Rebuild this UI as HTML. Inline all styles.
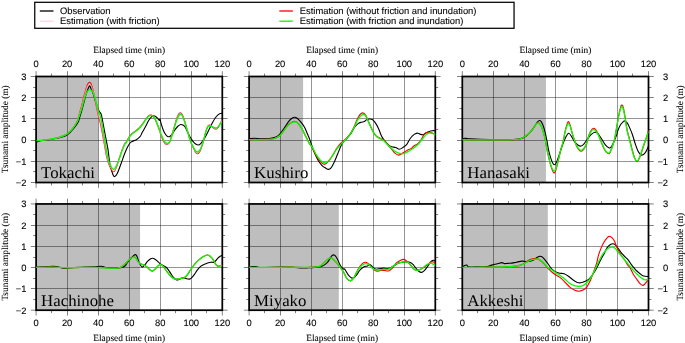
<!DOCTYPE html>
<html lang="en"><head><meta charset="utf-8"><title>Tsunami waveforms</title>
<style>html,body{margin:0;padding:0;background:#fff}svg{display:block}text{text-rendering:geometricPrecision}.s{font-family:'Liberation Sans', Arial, Helvetica, sans-serif;font-size:9.4px;fill:#000;stroke:#000;stroke-width:.09px}.r{font-family:'Liberation Serif', 'Times New Roman', Times, serif;font-size:9.4px;fill:#000;stroke:#000;stroke-width:.08px}.n{font-family:'Liberation Serif', 'Times New Roman', Times, serif;font-size:16.33px;fill:#000}</style></head><body>
<svg width="685" height="343" viewBox="0 0 685 343">
<rect width="685" height="343" fill="#fff"/>
<rect x="34.75" y="2.3" width="479.3" height="26" fill="#fff" stroke="#000" stroke-width="1.25"/>
<line x1="39.8" y1="11.0" x2="53.5" y2="11.0" stroke="#000" stroke-width="1.3"/>
<text class="s" x="60.0" y="14.1">Observation</text>
<line x1="39.8" y1="21.2" x2="53.5" y2="21.2" stroke="#ffc0cb" stroke-width="0.85"/>
<text class="s" x="60.0" y="24.3">Estimation (with friction)</text>
<line x1="279.3" y1="11.0" x2="292.8" y2="11.0" stroke="#f00" stroke-width="1.3"/>
<text class="s" x="299.8" y="14.1">Estimation (without friction and inundation)</text>
<line x1="279.3" y1="21.2" x2="292.8" y2="21.2" stroke="#0f0" stroke-width="1.3"/>
<text class="s" x="299.8" y="24.3">Estimation (with friction and inundation)</text>
<g>
<rect x="36.1" y="76.5" width="62.07" height="106" fill="#bebebe"/>
<path d="M67.5 76.5V182.5M98.5 76.5V182.5M129.5 76.5V182.5M160.5 76.5V182.5M191.5 76.5V182.5M36.1 97.5H222.3M36.1 118.5H222.3M36.1 140.5H222.3M36.1 161.5H222.3" stroke="#000" stroke-width="0.42" fill="none"/>
<rect x="36.1" y="76.5" width="186.2" height="106" fill="none" stroke="#000" stroke-width="1.75"/>
<path d="M36.1 76.5v-5.3M36.1 182.5v5.3M51.5 76.5v-2.9M51.5 182.5v2.9M67.5 76.5v-5.3M67.5 182.5v5.3M82.5 76.5v-2.9M82.5 182.5v2.9M98.5 76.5v-5.3M98.5 182.5v5.3M113.5 76.5v-2.9M113.5 182.5v2.9M129.5 76.5v-5.3M129.5 182.5v5.3M144.5 76.5v-2.9M144.5 182.5v2.9M160.5 76.5v-5.3M160.5 182.5v5.3M175.5 76.5v-2.9M175.5 182.5v2.9M191.5 76.5v-5.3M191.5 182.5v5.3M206.5 76.5v-2.9M206.5 182.5v2.9M222.3 76.5v-5.3M222.3 182.5v5.3M36.1 76.5h-5.3M222.3 76.5h5.3M36.1 87.5h-2.9M222.3 87.5h2.9M36.1 97.5h-5.3M222.3 97.5h5.3M36.1 108.5h-2.9M222.3 108.5h2.9M36.1 118.5h-5.3M222.3 118.5h5.3M36.1 129.5h-2.9M222.3 129.5h2.9M36.1 140.5h-5.3M222.3 140.5h5.3M36.1 150.5h-2.9M222.3 150.5h2.9M36.1 161.5h-5.3M222.3 161.5h5.3M36.1 171.5h-2.9M222.3 171.5h2.9M36.1 182.5h-5.3M222.3 182.5h5.3" stroke="#000" stroke-width="0.5" fill="none"/>
<text class="n" transform="translate(41.1 178) scale(1.03 1)">Tokachi</text>
<clipPath id="c00"><rect x="36.1" y="76.5" width="186.2" height="106"/></clipPath>
<g clip-path="url(#c00)" fill="none" stroke-linejoin="round" stroke-linecap="butt">
<path d="M36 142.41C36.49 142.19 37.7 141.44 38.92 141.09C40.14 140.75 41.35 140.63 43.3 140.36C45.25 140.1 48.17 139.88 50.6 139.49C53.03 139.1 55.46 138.61 57.9 138.03C60.33 137.45 63.13 136.96 65.2 135.99C67.27 135.01 68.73 133.65 70.31 132.19C71.89 130.73 73.35 128.98 74.69 127.23C76.02 125.47 77.56 123.16 78.34 121.68C79.11 120.2 78.77 120.23 79.36 118.34C79.94 116.44 81.09 112.93 81.84 110.31C82.59 107.68 83.2 105.17 83.88 102.57C84.56 99.97 85.27 96.88 85.93 94.69C86.58 92.5 87.22 90.89 87.82 89.43C88.43 87.97 88.99 85.93 89.58 85.93C90.16 85.93 90.67 87.97 91.33 89.43C91.99 90.89 92.79 92.55 93.52 94.69C94.25 96.83 94.95 99.92 95.71 102.28C96.46 104.64 97.41 107.27 98.04 108.85C98.68 110.43 98.97 110.84 99.5 111.77C100.04 112.69 100.67 112.48 101.26 114.38C101.84 116.27 102.35 119.73 103.01 123.14C103.66 126.55 104.37 130.44 105.2 134.82C106.02 139.2 107.16 144.35 107.97 149.42C108.79 154.48 109.25 160.99 110.09 165.2C110.93 169.41 112.23 172.79 113.01 174.69C113.79 176.58 114.03 176.83 114.76 176.58C115.49 176.34 116.34 175.37 117.39 173.23C118.43 171.09 119.82 167.02 121.04 163.74C122.25 160.45 123.47 156.56 124.69 153.52C125.9 150.48 127.24 147.44 128.34 145.49C129.43 143.54 129.92 142.81 131.26 141.84C132.59 140.87 134.91 140.5 136.36 139.65C137.82 138.8 139.07 137.86 140.01 136.73C140.96 135.6 141.11 134.59 142.06 132.85C143.01 131.1 144.61 128.35 145.71 126.28C146.8 124.21 147.65 122.02 148.63 120.44C149.6 118.86 150.7 117.57 151.55 116.79C152.4 116.01 153.01 115.77 153.74 115.77C154.47 115.77 155.2 116.25 155.93 116.79C156.66 117.32 157.56 118.37 158.12 118.98C158.68 119.59 158.97 120.39 159.28 120.44C159.6 120.49 159.72 118.78 160.01 119.27C160.31 119.76 160.5 121.58 161.04 123.36C161.57 125.13 162.5 128.1 163.23 129.93C163.96 131.75 164.69 133.21 165.42 134.31C166.15 135.4 166.88 136.13 167.61 136.5C168.34 136.86 169.07 136.86 169.8 136.5C170.53 136.13 171.13 135.4 171.99 134.31C172.84 133.21 173.93 131.27 174.91 129.93C175.88 128.59 176.85 127.18 177.82 126.28C178.8 125.38 179.89 124.72 180.74 124.53C181.6 124.33 182.2 124.7 182.93 125.11C183.66 125.52 184.39 125.96 185.12 127.01C185.85 128.05 186.46 129.68 187.31 131.39C188.17 133.09 189.26 135.52 190.23 137.23C191.21 138.93 192.18 140.44 193.15 141.61C194.13 142.77 195.22 143.67 196.07 144.23C196.92 144.79 197.53 145.04 198.26 144.96C198.99 144.89 199.6 144.6 200.45 143.8C201.3 142.99 202.4 141.61 203.37 140.15C204.35 138.69 205.32 136.86 206.29 135.04C207.27 133.21 208.24 131.14 209.21 129.2C210.18 127.25 211.16 125.18 212.13 123.36C213.1 121.53 214.08 119.66 215.05 118.25C216.02 116.84 217.12 115.67 217.97 114.89C218.82 114.11 219.43 113.87 220.16 113.58C220.89 113.28 221.99 113.21 222.35 113.14" stroke="#000" stroke-width="1.12"/>
<path d="M36.73 140.66C37.82 140.58 40.99 140.46 43.3 140.22C45.61 139.98 48.17 139.61 50.6 139.2C53.03 138.78 55.46 138.42 57.9 137.74C60.33 137.06 63.25 136.08 65.2 135.11C67.14 134.14 68.12 133.28 69.58 131.9C71.04 130.51 72.62 128.69 73.96 126.79C75.29 124.89 76.63 122.89 77.61 120.51C78.58 118.13 79.07 115.17 79.8 112.5C80.53 109.82 81.3 107.14 81.99 104.47C82.67 101.79 83.27 98.8 83.88 96.44C84.49 94.08 85.03 92.3 85.64 90.31C86.24 88.31 86.9 85.81 87.53 84.47C88.17 83.13 88.82 82.35 89.43 82.28C90.04 82.2 90.6 82.76 91.18 84.03C91.77 85.29 92.33 87.56 92.93 89.87C93.54 92.18 94.22 94.98 94.83 97.9C95.44 100.82 95.98 104.4 96.58 107.39C97.19 110.38 97.75 112.73 98.48 115.84C99.21 118.95 100.14 122.17 100.96 126.06C101.79 129.95 102.46 133.89 103.45 139.2C104.43 144.5 105.77 153.27 106.88 157.9C107.98 162.52 108.99 164.64 110.09 166.95C111.18 169.26 112.4 171.69 113.45 171.77C114.49 171.84 115.42 169.58 116.36 167.39C117.31 165.2 118.19 161.55 119.14 158.63C120.09 155.71 121.09 152.42 122.06 149.87C123.03 147.31 124.32 144.55 124.98 143.3C125.64 142.04 125.34 143.35 126 142.34C126.66 141.32 127.95 138.69 128.92 137.23C129.89 135.77 130.74 134.62 131.84 133.58C132.93 132.53 134.27 131.87 135.49 130.95C136.71 130.02 137.92 129.25 139.14 128.03C140.36 126.81 141.69 125.11 142.79 123.65C143.88 122.19 144.73 120.58 145.71 119.27C146.68 117.96 147.73 116.47 148.63 115.77C149.53 115.06 150.31 114.87 151.11 115.04C151.91 115.21 152.69 115.89 153.45 116.79C154.2 117.69 154.78 118.61 155.64 120.44C156.49 122.26 157.58 125.06 158.55 127.74C159.53 130.41 160.5 134.01 161.47 136.5C162.45 138.98 163.47 141.31 164.39 142.63C165.32 143.94 166.17 144.43 167.02 144.38C167.87 144.33 168.73 143.77 169.5 142.34C170.28 140.9 170.96 138.13 171.69 135.77C172.42 133.41 173.15 130.73 173.88 128.18C174.61 125.62 175.34 122.65 176.07 120.44C176.8 118.22 177.53 116.16 178.26 114.89C178.99 113.63 179.75 112.82 180.45 112.85C181.16 112.87 181.79 113.65 182.5 115.04C183.2 116.42 183.96 118.86 184.69 121.17C185.42 123.48 186.15 126.35 186.88 128.91C187.61 131.46 188.34 134.09 189.07 136.5C189.8 138.91 190.53 141.46 191.26 143.36C191.99 145.26 192.76 146.45 193.45 147.88C194.13 149.32 194.66 151.01 195.34 151.99C196.02 152.96 196.75 153.88 197.53 153.74C198.31 153.59 199.36 152.16 200.01 151.11C200.67 150.06 200.89 149.15 201.47 147.45C202.06 145.74 202.84 143.38 203.52 140.88C204.2 138.37 204.86 134.84 205.56 132.41C206.27 129.98 207.09 127.49 207.75 126.28C208.41 125.06 208.9 125.16 209.5 125.11C210.11 125.06 210.72 125.5 211.4 125.99C212.08 126.47 212.86 127.49 213.59 128.03C214.32 128.56 215.05 129.25 215.78 129.2C216.51 129.15 217.24 128.64 217.97 127.74C218.7 126.84 219.43 125.13 220.16 123.8C220.89 122.46 221.99 120.39 222.35 119.71" stroke="#f00" stroke-width="1.15"/>
<path d="M36.73 140.66C37.82 140.58 40.99 140.46 43.3 140.22C45.61 139.98 48.17 139.61 50.6 139.2C53.03 138.78 55.46 138.42 57.9 137.74C60.33 137.06 63.25 136.08 65.2 135.11C67.14 134.14 68.12 133.28 69.58 131.9C71.04 130.51 72.62 128.67 73.96 126.79C75.29 124.91 76.63 122.92 77.61 120.6C78.58 118.28 79.07 115.44 79.8 112.86C80.53 110.28 81.3 107.69 81.99 105.1C82.67 102.51 83.27 99.62 83.88 97.31C84.49 95 85.03 93.15 85.64 91.24C86.24 89.33 86.9 87.1 87.53 85.86C88.17 84.63 88.82 83.92 89.43 83.83C90.04 83.74 90.6 84.24 91.18 85.34C91.77 86.44 92.33 88.38 92.93 90.45C93.54 92.53 94.22 95.08 94.83 97.78C95.44 100.48 95.98 103.8 96.58 106.66C97.19 109.52 97.75 111.93 98.48 114.94C99.21 117.94 100.14 120.89 100.96 124.7C101.79 128.51 102.46 132.4 103.45 137.8C104.43 143.19 105.77 152.32 106.88 157.08C107.98 161.84 108.99 163.99 110.09 166.34C111.18 168.7 112.4 171.09 113.45 171.2C114.49 171.32 115.42 169.11 116.36 167.03C117.31 164.95 118.19 161.52 119.14 158.7C120.09 155.88 121.09 152.64 122.06 150.11C123.03 147.58 124.32 144.77 124.98 143.5C125.64 142.23 125.34 143.5 126 142.48C126.66 141.46 127.95 138.83 128.92 137.37C129.89 135.91 130.74 134.78 131.84 133.72C132.93 132.67 134.27 131.97 135.49 131.04C136.71 130.1 137.92 129.33 139.14 128.12C140.36 126.9 141.69 125.2 142.79 123.74C143.88 122.28 144.73 120.67 145.71 119.36C146.68 118.05 147.73 116.59 148.63 115.88C149.53 115.18 150.31 114.98 151.11 115.13C151.91 115.27 152.69 115.88 153.45 116.75C154.2 117.62 154.78 118.53 155.64 120.34C156.49 122.15 157.58 124.95 158.55 127.59C159.53 130.23 160.5 133.74 161.47 136.19C162.45 138.64 163.47 140.98 164.39 142.31C165.32 143.63 166.17 144.14 167.02 144.13C167.87 144.12 168.73 143.61 169.5 142.24C170.28 140.87 170.96 138.22 171.69 135.92C172.42 133.62 173.15 130.95 173.88 128.43C174.61 125.9 175.34 122.97 176.07 120.78C176.8 118.58 177.53 116.53 178.26 115.26C178.99 113.99 179.75 113.13 180.45 113.14C181.16 113.15 181.79 113.96 182.5 115.33C183.2 116.7 183.96 119.08 184.69 121.36C185.42 123.64 186.15 126.48 186.88 129.01C187.61 131.54 188.34 134.15 189.07 136.53C189.8 138.9 190.53 141.4 191.26 143.27C191.99 145.14 192.76 146.35 193.45 147.75C194.13 149.16 194.66 150.75 195.34 151.69C196.02 152.63 196.75 153.54 197.53 153.39C198.31 153.24 199.36 151.82 200.01 150.8C200.67 149.78 200.89 148.94 201.47 147.27C202.06 145.6 202.84 143.23 203.52 140.77C204.2 138.31 204.86 134.89 205.56 132.5C206.27 130.11 207.09 127.63 207.75 126.42C208.41 125.22 208.9 125.35 209.5 125.28C210.11 125.22 210.72 125.61 211.4 126.04C212.08 126.48 212.86 127.42 213.59 127.91C214.32 128.4 215.05 129.05 215.78 128.99C216.51 128.94 217.24 128.45 217.97 127.59C218.7 126.73 219.43 125.1 220.16 123.85C220.89 122.6 221.99 120.72 222.35 120.09" stroke="#ffc0cb" stroke-width="0.7"/>
<path d="M36.73 140.66C37.82 140.58 40.99 140.46 43.3 140.22C45.61 139.98 48.17 139.61 50.6 139.2C53.03 138.78 55.46 138.42 57.9 137.74C60.33 137.06 63.25 136.08 65.2 135.11C67.14 134.14 68.12 133.28 69.58 131.9C71.04 130.51 72.62 128.61 73.96 126.79C75.29 124.96 76.88 122.36 77.61 120.95C78.34 119.54 77.73 120.11 78.34 118.34C78.94 116.56 80.4 112.98 81.26 110.31C82.11 107.63 82.72 104.83 83.45 102.28C84.18 99.72 84.91 96.88 85.64 94.98C86.36 93.08 87.09 91.77 87.82 90.89C88.55 90.01 89.28 89.65 90.01 89.72C90.74 89.8 91.47 90.33 92.2 91.33C92.93 92.33 93.66 93.64 94.39 95.71C95.12 97.78 95.85 100.94 96.58 103.74C97.31 106.54 98.17 110.48 98.77 112.5C99.38 114.51 99.63 113.58 100.23 115.84C100.84 118.1 101.69 122.17 102.42 126.06C103.15 129.95 103.7 133.89 104.61 139.2C105.53 144.5 106.86 153.44 107.9 157.9C108.93 162.35 109.84 164.03 110.82 165.93C111.79 167.82 112.76 169.41 113.74 169.28C114.71 169.16 115.68 167.09 116.66 165.2C117.63 163.3 118.6 160.45 119.58 157.9C120.55 155.34 121.52 152.3 122.5 149.87C123.47 147.44 124.83 144.43 125.42 143.3C126 142.17 125.42 143.96 126 143.07C126.58 142.18 127.95 139.42 128.92 137.96C129.89 136.5 130.74 135.4 131.84 134.31C132.93 133.21 134.27 132.36 135.49 131.39C136.71 130.41 137.92 129.68 139.14 128.47C140.36 127.25 141.69 125.55 142.79 124.09C143.88 122.63 144.73 121 145.71 119.71C146.68 118.42 147.65 117.08 148.63 116.35C149.6 115.62 150.7 115.26 151.55 115.33C152.4 115.4 153.01 115.94 153.74 116.79C154.47 117.64 155.08 118.61 155.93 120.44C156.78 122.26 157.87 125.18 158.85 127.74C159.82 130.29 160.79 133.45 161.77 135.77C162.74 138.08 163.71 140.32 164.69 141.61C165.66 142.9 166.75 143.5 167.61 143.5C168.46 143.5 169.07 142.9 169.8 141.61C170.53 140.32 171.26 137.96 171.99 135.77C172.72 133.58 173.45 130.9 174.18 128.47C174.91 126.03 175.64 123.24 176.36 121.17C177.09 119.1 177.87 117.2 178.55 116.06C179.24 114.91 179.84 114.36 180.45 114.31C181.06 114.26 181.55 114.62 182.2 115.77C182.86 116.91 183.66 119.05 184.39 121.17C185.12 123.28 185.85 126.03 186.58 128.47C187.31 130.9 188.04 133.45 188.77 135.77C189.5 138.08 190.23 140.51 190.96 142.34C191.69 144.16 192.42 145.35 193.15 146.72C193.88 148.08 194.61 149.65 195.34 150.53C196.07 151.4 196.8 152.06 197.53 151.99C198.26 151.91 199.11 150.84 199.72 150.09C200.33 149.33 200.57 148.98 201.18 147.45C201.79 145.91 202.64 143.31 203.37 140.88C204.1 138.44 204.83 135.16 205.56 132.85C206.29 130.54 207.09 128.15 207.75 127.01C208.41 125.86 208.9 126.11 209.5 125.99C210.11 125.86 210.72 126.03 211.4 126.28C212.08 126.52 212.86 127.13 213.59 127.45C214.32 127.76 215.05 128.25 215.78 128.18C216.51 128.1 217.24 127.69 217.97 127.01C218.7 126.33 219.43 124.99 220.16 124.09C220.89 123.19 221.99 122.02 222.35 121.61" stroke="#0f0" stroke-width="1.3"/>
</g>
<text class="s" text-anchor="middle" x="36.1" y="67">0</text>
<text class="s" text-anchor="middle" x="67.13" y="67">20</text>
<text class="s" text-anchor="middle" x="98.17" y="67">40</text>
<text class="s" text-anchor="middle" x="129.2" y="67">60</text>
<text class="s" text-anchor="middle" x="160.23" y="67">80</text>
<text class="s" text-anchor="middle" x="191.27" y="67">100</text>
<text class="s" text-anchor="middle" x="222.3" y="67">120</text>
<text class="r" text-anchor="middle" x="129.2" y="52.5">Elapsed time (min)</text>
<text class="s" text-anchor="end" x="26.4" y="79.85">3</text>
<text class="s" text-anchor="end" x="26.4" y="101.05">2</text>
<text class="s" text-anchor="end" x="26.4" y="122.25">1</text>
<text class="s" text-anchor="end" x="26.4" y="143.45">0</text>
<text class="s" text-anchor="end" x="26.4" y="164.65">−1</text>
<text class="s" text-anchor="end" x="26.4" y="185.85">−2</text>
<text class="r" text-anchor="middle" transform="translate(8.4 129.2) rotate(-90)">Tsunami amplitude (m)</text>
</g>
<g>
<rect x="249.1" y="76.5" width="54" height="106" fill="#bebebe"/>
<path d="M280.5 76.5V182.5M311.5 76.5V182.5M342.5 76.5V182.5M373.5 76.5V182.5M404.5 76.5V182.5M249.1 97.5H435.3M249.1 118.5H435.3M249.1 140.5H435.3M249.1 161.5H435.3" stroke="#000" stroke-width="0.42" fill="none"/>
<rect x="249.1" y="76.5" width="186.2" height="106" fill="none" stroke="#000" stroke-width="1.75"/>
<path d="M249.1 76.5v-5.3M249.1 182.5v5.3M264.5 76.5v-2.9M264.5 182.5v2.9M280.5 76.5v-5.3M280.5 182.5v5.3M295.5 76.5v-2.9M295.5 182.5v2.9M311.5 76.5v-5.3M311.5 182.5v5.3M326.5 76.5v-2.9M326.5 182.5v2.9M342.5 76.5v-5.3M342.5 182.5v5.3M357.5 76.5v-2.9M357.5 182.5v2.9M373.5 76.5v-5.3M373.5 182.5v5.3M388.5 76.5v-2.9M388.5 182.5v2.9M404.5 76.5v-5.3M404.5 182.5v5.3M419.5 76.5v-2.9M419.5 182.5v2.9M435.3 76.5v-5.3M435.3 182.5v5.3M249.1 76.5h-5.3M435.3 76.5h5.3M249.1 87.5h-2.9M435.3 87.5h2.9M249.1 97.5h-5.3M435.3 97.5h5.3M249.1 108.5h-2.9M435.3 108.5h2.9M249.1 118.5h-5.3M435.3 118.5h5.3M249.1 129.5h-2.9M435.3 129.5h2.9M249.1 140.5h-5.3M435.3 140.5h5.3M249.1 150.5h-2.9M435.3 150.5h2.9M249.1 161.5h-5.3M435.3 161.5h5.3M249.1 171.5h-2.9M435.3 171.5h2.9M249.1 182.5h-5.3M435.3 182.5h5.3" stroke="#000" stroke-width="0.5" fill="none"/>
<text class="n" transform="translate(254.1 178) scale(1.03 1)">Kushiro</text>
<clipPath id="c01"><rect x="249.1" y="76.5" width="186.2" height="106"/></clipPath>
<g clip-path="url(#c01)" fill="none" stroke-linejoin="round" stroke-linecap="butt">
<path d="M249.21 138.69C250.14 138.61 252.86 138.25 254.76 138.25C256.66 138.25 258.41 138.61 260.6 138.69C262.79 138.76 265.46 138.93 267.9 138.69C270.33 138.44 273.25 137.96 275.2 137.23C277.14 136.5 278.12 135.77 279.58 134.31C281.04 132.85 282.5 130.54 283.96 128.47C285.42 126.4 287 123.6 288.34 121.9C289.67 120.19 290.89 119.03 291.99 118.25C293.08 117.47 294.05 117.23 294.91 117.23C295.76 117.23 296.12 117.47 297.09 118.25C298.07 119.03 299.53 120.44 300.74 121.9C301.96 123.36 303.3 125.06 304.39 127.01C305.49 128.95 306.34 131.27 307.31 133.58C308.29 135.89 309.2 138.07 310.23 140.88C311.27 143.69 312.24 147.26 313.52 150.44C314.8 153.61 316.44 157.37 317.9 159.93C319.36 162.48 320.94 164.38 322.28 165.77C323.62 167.15 324.91 167.64 325.93 168.25C326.95 168.86 327.56 169.46 328.41 169.42C329.26 169.37 330.11 169.05 331.04 167.96C331.96 166.86 332.86 165.16 333.96 162.85C335.05 160.54 336.39 157.01 337.61 154.09C338.82 151.17 340.16 147.52 341.26 145.33C342.35 143.14 343.2 142.17 344.18 140.95C345.15 139.73 346 139.25 347.09 138.03C348.19 136.81 349.46 135.49 350.74 133.65C352.03 131.81 353.51 128.72 354.79 127.01C356.07 125.29 357.34 124.16 358.44 123.36C359.53 122.55 360.38 122.48 361.36 122.19C362.33 121.9 363.43 122.02 364.28 121.61C365.13 121.19 365.62 120.15 366.47 119.71C367.32 119.27 368.41 119.03 369.39 118.98C370.36 118.93 371.33 118.81 372.31 119.42C373.28 120.02 374.25 121.24 375.23 122.63C376.2 124.01 377.17 125.67 378.15 127.74C379.12 129.81 380.46 133.56 381.07 135.04C381.67 136.51 381.19 135.58 381.8 136.57C382.4 137.55 383.5 139.49 384.72 140.95C385.93 142.41 387.88 144.36 389.09 145.33C390.31 146.3 390.92 146.42 392.01 146.79C393.11 147.15 394.45 147.1 395.66 147.52C396.88 147.93 398.1 149.27 399.31 149.27C400.53 149.27 401.75 148.3 402.96 147.52C404.18 146.74 405.52 145.94 406.61 144.6C407.71 143.26 408.56 140.95 409.53 139.49C410.51 138.03 411.48 136.81 412.45 135.84C413.43 134.87 414.45 134.09 415.37 133.65C416.3 133.21 417.15 133.09 418 133.21C418.85 133.33 419.58 134.14 420.48 134.38C421.38 134.62 422.55 134.87 423.4 134.67C424.25 134.48 424.62 133.75 425.59 133.21C426.56 132.68 428.15 131.87 429.24 131.46C430.34 131.05 431.11 130.85 432.16 130.73C433.21 130.61 434.96 130.73 435.52 130.73" stroke="#000" stroke-width="1.12"/>
<path d="M249.21 139.71C251.11 139.71 257.24 139.76 260.6 139.71C263.96 139.66 266.92 139.66 269.36 139.42C271.79 139.17 273.49 138.86 275.2 138.25C276.9 137.64 278.12 137.08 279.58 135.77C281.04 134.45 282.5 132.21 283.96 130.36C285.42 128.52 287 126.03 288.34 124.67C289.67 123.31 290.82 122.73 291.99 122.19C293.15 121.65 294.25 121.19 295.34 121.46C296.44 121.73 297.41 122.51 298.55 123.8C299.7 125.09 300.99 127.08 302.2 129.2C303.42 131.31 304.64 134.06 305.85 136.5C307.07 138.93 308.52 142.08 309.5 143.8C310.49 145.51 310.66 144.83 311.77 146.79C312.87 148.75 314.69 153.04 316.15 155.55C317.61 158.05 319.14 160.36 320.53 161.82C321.91 163.28 323.15 164.38 324.47 164.31C325.78 164.23 327.07 162.85 328.41 161.39C329.75 159.93 331.13 157.66 332.5 155.55C333.86 153.43 335.25 150.71 336.58 148.69C337.92 146.67 339.02 145.04 340.53 143.43C342.03 141.82 344.05 140.61 345.64 139.05C347.22 137.49 348.61 136.09 350.01 134.09C351.42 132.08 352.9 129.4 354.06 127.01C355.22 124.61 356 121.78 356.98 119.71C357.95 117.64 358.92 115.74 359.9 114.6C360.87 113.45 361.84 112.73 362.82 112.85C363.79 112.97 364.89 114.06 365.74 115.33C366.59 116.59 367.08 118.49 367.93 120.44C368.78 122.38 369.87 124.94 370.85 127.01C371.82 129.08 372.79 131.27 373.77 132.85C374.74 134.43 375.59 135.57 376.69 136.5C377.78 137.42 379.12 137.77 380.34 138.39C381.55 139.01 382.77 139.18 383.99 140.22C385.2 141.25 386.3 143.02 387.64 144.6C388.97 146.18 390.8 148.3 392.01 149.71C393.23 151.12 393.84 152.17 394.93 153.07C396.03 153.97 397.37 155.06 398.58 155.11C399.8 155.16 401.14 153.94 402.23 153.36C403.33 152.77 404.18 152.21 405.15 151.61C406.13 151 407.1 150.19 408.07 149.71C409.05 149.22 410.02 149.29 410.99 148.69C411.97 148.08 412.82 146.86 413.91 146.06C415.01 145.26 416.47 144.72 417.56 143.87C418.66 143.02 419.39 142.53 420.48 140.95C421.58 139.37 423.04 135.84 424.13 134.38C425.23 132.92 425.83 132.43 427.05 132.19C428.27 131.95 430.02 132.55 431.43 132.92C432.84 133.28 434.84 134.14 435.52 134.38" stroke="#f00" stroke-width="1.15"/>
<path d="M249.21 139.71C251.11 139.71 257.24 139.76 260.6 139.71C263.96 139.66 266.92 139.66 269.36 139.42C271.79 139.17 273.49 138.86 275.2 138.25C276.9 137.64 278.12 137.03 279.58 135.77C281.04 134.5 282.5 132.43 283.96 130.66C285.42 128.88 287 126.45 288.34 125.11C289.67 123.77 290.77 123.16 291.99 122.63C293.2 122.09 294.54 121.65 295.64 121.9C296.73 122.14 297.46 122.87 298.55 124.09C299.65 125.3 300.99 127.13 302.2 129.2C303.42 131.27 304.64 134.06 305.85 136.5C307.07 138.93 308.47 142.08 309.5 143.8C310.54 145.51 310.9 144.95 312.06 146.79C313.21 148.63 314.98 152.51 316.44 154.82C317.9 157.13 319.36 159.32 320.82 160.66C322.28 162 323.86 162.85 325.2 162.85C326.54 162.85 327.63 161.87 328.85 160.66C330.06 159.44 331.16 157.49 332.5 155.55C333.83 153.6 335.42 150.92 336.88 148.98C338.34 147.03 339.8 145.45 341.26 143.87C342.72 142.29 344.18 141.07 345.64 139.49C347.09 137.91 348.61 136.34 350.01 134.38C351.42 132.42 352.9 129.94 354.06 127.74C355.22 125.54 356 122.99 356.98 121.17C357.95 119.34 359.05 117.83 359.9 116.79C360.75 115.74 361.41 115.3 362.09 114.89C362.77 114.48 363.38 114.11 363.99 114.31C364.59 114.5 365.08 115.04 365.74 116.06C366.39 117.08 367.08 118.61 367.93 120.44C368.78 122.26 369.87 124.94 370.85 127.01C371.82 129.08 372.79 131.27 373.77 132.85C374.74 134.43 375.59 135.52 376.69 136.5C377.78 137.47 379.12 137.94 380.34 138.69C381.55 139.43 382.77 139.96 383.99 140.95C385.2 141.93 386.42 143.38 387.64 144.6C388.85 145.82 390.07 147.15 391.28 148.25C392.5 149.34 393.72 150.36 394.93 151.17C396.15 151.97 397.37 152.63 398.58 153.07C399.8 153.5 401.26 153.75 402.23 153.8C403.21 153.84 403.57 153.67 404.42 153.36C405.27 153.04 406.25 152.51 407.34 151.9C408.44 151.29 409.78 150.49 410.99 149.71C412.21 148.93 413.43 148.13 414.64 147.23C415.86 146.33 417.08 145.6 418.29 144.31C419.51 143.02 420.73 141.02 421.94 139.49C423.16 137.96 424.37 136.2 425.59 135.11C426.81 134.01 428.15 133.24 429.24 132.92C430.34 132.6 431.11 132.92 432.16 133.21C433.21 133.5 434.96 134.43 435.52 134.67" stroke="#0f0" stroke-width="1.3"/>
</g>
<text class="s" text-anchor="middle" x="249.1" y="67">0</text>
<text class="s" text-anchor="middle" x="280.13" y="67">20</text>
<text class="s" text-anchor="middle" x="311.17" y="67">40</text>
<text class="s" text-anchor="middle" x="342.2" y="67">60</text>
<text class="s" text-anchor="middle" x="373.23" y="67">80</text>
<text class="s" text-anchor="middle" x="404.27" y="67">100</text>
<text class="s" text-anchor="middle" x="435.3" y="67">120</text>
<text class="r" text-anchor="middle" x="342.2" y="52.5">Elapsed time (min)</text>
</g>
<g>
<rect x="462.3" y="76.5" width="83.63" height="106" fill="#bebebe"/>
<path d="M493.5 76.5V182.5M524.5 76.5V182.5M555.5 76.5V182.5M586.5 76.5V182.5M617.5 76.5V182.5M462.3 97.5H648.5M462.3 118.5H648.5M462.3 140.5H648.5M462.3 161.5H648.5" stroke="#000" stroke-width="0.42" fill="none"/>
<rect x="462.3" y="76.5" width="186.2" height="106" fill="none" stroke="#000" stroke-width="1.75"/>
<path d="M462.3 76.5v-5.3M462.3 182.5v5.3M477.5 76.5v-2.9M477.5 182.5v2.9M493.5 76.5v-5.3M493.5 182.5v5.3M508.5 76.5v-2.9M508.5 182.5v2.9M524.5 76.5v-5.3M524.5 182.5v5.3M539.5 76.5v-2.9M539.5 182.5v2.9M555.5 76.5v-5.3M555.5 182.5v5.3M570.5 76.5v-2.9M570.5 182.5v2.9M586.5 76.5v-5.3M586.5 182.5v5.3M601.5 76.5v-2.9M601.5 182.5v2.9M617.5 76.5v-5.3M617.5 182.5v5.3M632.5 76.5v-2.9M632.5 182.5v2.9M648.5 76.5v-5.3M648.5 182.5v5.3M462.3 76.5h-5.3M648.5 76.5h5.3M462.3 87.5h-2.9M648.5 87.5h2.9M462.3 97.5h-5.3M648.5 97.5h5.3M462.3 108.5h-2.9M648.5 108.5h2.9M462.3 118.5h-5.3M648.5 118.5h5.3M462.3 129.5h-2.9M648.5 129.5h2.9M462.3 140.5h-5.3M648.5 140.5h5.3M462.3 150.5h-2.9M648.5 150.5h2.9M462.3 161.5h-5.3M648.5 161.5h5.3M462.3 171.5h-2.9M648.5 171.5h2.9M462.3 182.5h-5.3M648.5 182.5h5.3" stroke="#000" stroke-width="0.5" fill="none"/>
<text class="n" transform="translate(467.3 178) scale(1.03 1)">Hanasaki</text>
<clipPath id="c02"><rect x="462.3" y="76.5" width="186.2" height="106"/></clipPath>
<g clip-path="url(#c02)" fill="none" stroke-linejoin="round" stroke-linecap="butt">
<path d="M462.38 139.12C462.74 138.98 463.6 138.32 464.57 138.25C465.54 138.18 465.66 138.49 468.22 138.69C470.77 138.88 474.3 139.25 479.9 139.42C485.49 139.59 495.71 139.71 501.8 139.71C507.88 139.71 512.99 139.66 516.39 139.42C519.8 139.17 520.53 138.86 522.23 138.25C523.94 137.64 525.15 136.91 526.61 135.77C528.07 134.62 529.65 132.97 530.99 131.39C532.33 129.81 533.55 127.86 534.64 126.28C535.74 124.7 536.76 122.87 537.56 121.9C538.36 120.92 538.85 120.49 539.46 120.44C540.07 120.39 540.55 120.63 541.21 121.61C541.87 122.58 542.67 124.16 543.4 126.28C544.13 128.39 544.93 131.51 545.59 134.31C546.25 137.1 546.78 140.13 547.34 143.07C547.91 146 548.22 148.84 548.98 151.9C549.74 154.95 551.05 159.25 551.9 161.39C552.75 163.53 553.36 164.5 554.09 164.74C554.82 164.99 555.43 164.5 556.28 162.85C557.13 161.19 558.22 157.62 559.2 154.82C560.17 152.02 561.02 148.98 562.12 146.06C563.21 143.14 564.67 139.44 565.77 137.3C566.86 135.16 567.71 133.33 568.69 133.21C569.66 133.09 570.63 135.16 571.61 136.57C572.58 137.98 573.43 140.22 574.53 141.68C575.62 143.14 577.08 144.6 578.18 145.33C579.27 146.06 580.12 146.3 581.09 146.06C582.07 145.82 582.92 145.09 584.01 143.87C585.11 142.65 586.45 140.34 587.66 138.76C588.88 137.18 590.1 135.47 591.31 134.38C592.53 133.28 593.87 132.31 594.96 132.19C596.06 132.07 596.79 132.55 597.88 133.65C598.98 134.74 600.32 136.93 601.53 138.76C602.75 140.58 603.97 143.09 605.18 144.6C606.4 146.11 607.86 147.37 608.83 147.81C609.81 148.25 610.17 148.25 611.02 147.23C611.87 146.2 612.97 143.82 613.94 141.68C614.91 139.54 616.25 136.09 616.86 134.38C617.47 132.66 616.98 132.98 617.59 131.39C618.2 129.79 619.54 126.47 620.51 124.82C621.48 123.16 622.76 122.11 623.43 121.46C624.11 120.81 623.94 120.68 624.56 120.91C625.19 121.15 626.31 121.68 627.19 122.88C628.07 124.09 628.94 126.17 629.82 128.14C630.69 130.11 631.57 132.19 632.45 134.71C633.32 137.23 634.2 140.62 635.07 143.25C635.95 145.88 636.83 148.61 637.7 150.47C638.58 152.34 639.56 153.65 640.33 154.42C641.1 155.18 641.53 155.29 642.3 155.07C643.07 154.85 644.16 153.98 644.93 153.1C645.69 152.23 646.29 151.02 646.9 149.82C647.51 148.61 648.32 146.53 648.61 145.88" stroke="#000" stroke-width="1.12"/>
<path d="M462.38 139.71C464.08 139.73 468.46 139.83 472.6 139.85C476.73 139.88 482.33 139.85 487.2 139.85C492.06 139.85 497.42 139.88 501.8 139.85C506.18 139.83 510.55 139.83 513.47 139.71C516.39 139.59 517.61 139.54 519.31 139.12C521.02 138.71 522.23 138.03 523.69 137.23C525.15 136.42 526.73 135.45 528.07 134.31C529.41 133.16 530.63 131.7 531.72 130.36C532.82 129.03 533.79 127.45 534.64 126.28C535.49 125.11 536.18 123.94 536.83 123.36C537.49 122.77 537.98 122.53 538.58 122.77C539.19 123.02 539.8 123.63 540.48 124.82C541.16 126.01 541.94 127.74 542.67 129.93C543.4 132.12 544.42 136.24 544.86 137.96C545.3 139.67 544.89 137.85 545.33 140.22C545.77 142.59 546.67 148.18 547.52 152.19C548.37 156.2 549.59 161.19 550.44 164.31C551.29 167.42 552.02 169.42 552.63 170.88C553.24 172.34 553.6 173.07 554.09 173.07C554.57 173.07 554.94 172.58 555.55 170.88C556.16 169.17 556.89 166.25 557.74 162.85C558.59 159.44 559.68 154.26 560.66 150.44C561.63 146.62 562.9 142.86 563.58 139.93C564.26 137 564.21 135.36 564.74 132.85C565.28 130.33 566.18 126.69 566.79 124.82C567.4 122.94 567.83 121.56 568.39 121.61C568.95 121.65 569.49 123.11 570.15 125.11C570.8 127.1 571.48 130.64 572.34 133.58C573.19 136.51 574.28 140.16 575.26 142.7C576.23 145.24 577.2 147.42 578.18 148.83C579.15 150.24 580.12 151.17 581.09 151.17C582.07 151.17 583.04 150.24 584.01 148.83C584.99 147.42 586.2 144.71 586.93 142.7C587.66 140.69 587.79 138.67 588.39 136.79C589 134.9 589.81 132.77 590.58 131.39C591.36 130 592.29 128.83 593.07 128.47C593.84 128.1 594.53 128.54 595.26 129.2C595.99 129.85 596.74 131.07 597.45 132.41C598.15 133.75 598.81 135.51 599.49 137.23C600.17 138.94 600.71 140.64 601.53 142.7C602.36 144.76 603.43 147.79 604.45 149.56C605.47 151.34 606.79 152.77 607.66 153.36C608.54 153.94 609.03 153.92 609.71 153.07C610.39 152.21 610.92 150.63 611.75 148.25C612.58 145.86 613.82 142.47 614.67 138.76C615.52 135.05 616.13 130.13 616.86 125.99C617.59 121.84 618.39 117.1 619.05 113.87C619.71 110.63 620.32 108.03 620.8 106.57C621.29 105.11 621.53 104.87 621.97 105.11C622.41 105.35 622.87 105.84 623.43 108.03C623.99 110.22 624.7 114.48 625.33 118.25C625.96 122.02 626.54 127.26 627.23 130.66C627.91 134.06 628.62 135.57 629.42 138.65C630.23 141.73 631.18 145.91 632.05 149.16C632.93 152.41 633.8 156.05 634.68 158.13C635.56 160.22 636.5 161.74 637.31 161.68C638.12 161.61 638.88 159.17 639.54 157.74C640.2 156.31 640.53 155.23 641.25 153.1C641.97 150.97 643 147.58 643.88 144.96C644.75 142.33 645.72 139.74 646.5 137.34C647.29 134.93 648.26 131.64 648.61 130.5" stroke="#f00" stroke-width="1.15"/>
<path d="M462.38 139.71C464.08 139.73 468.46 139.83 472.6 139.85C476.73 139.88 482.33 139.85 487.2 139.85C492.06 139.85 497.42 139.88 501.8 139.85C506.18 139.83 510.55 139.83 513.47 139.71C516.39 139.59 517.61 139.54 519.31 139.12C521.02 138.71 522.23 138.03 523.69 137.23C525.15 136.42 526.73 135.45 528.07 134.31C529.41 133.16 530.63 131.7 531.72 130.36C532.82 129.03 533.79 127.4 534.64 126.28C535.49 125.16 536.18 124.18 536.83 123.65C537.49 123.11 537.98 122.87 538.58 123.07C539.19 123.26 539.8 123.67 540.48 124.82C541.16 125.96 541.94 127.74 542.67 129.93C543.4 132.12 544.42 136.24 544.86 137.96C545.3 139.67 544.89 137.9 545.33 140.22C545.77 142.54 546.67 148 547.52 151.9C548.37 155.79 549.59 160.66 550.44 163.58C551.29 166.5 552.02 168.15 552.63 169.42C553.24 170.68 553.6 171.17 554.09 171.17C554.57 171.17 554.94 170.92 555.55 169.42C556.16 167.91 556.89 165.28 557.74 162.12C558.59 158.95 559.68 154.09 560.66 150.44C561.63 146.79 562.9 143.03 563.58 140.22C564.26 137.41 564.21 135.9 564.74 133.58C565.28 131.25 566.18 127.98 566.79 126.28C567.4 124.57 567.83 123.36 568.39 123.36C568.95 123.36 569.49 124.57 570.15 126.28C570.8 127.98 571.48 130.89 572.34 133.58C573.19 136.27 574.28 139.96 575.26 142.41C576.23 144.85 577.2 146.91 578.18 148.25C579.15 149.59 580.12 150.44 581.09 150.44C582.07 150.44 583.04 149.59 584.01 148.25C584.99 146.91 586.2 144.25 586.93 142.41C587.66 140.57 587.79 138.94 588.39 137.23C589 135.51 589.85 133.38 590.58 132.12C591.31 130.85 592.04 130 592.77 129.64C593.5 129.27 594.23 129.39 594.96 129.93C595.69 130.46 596.42 131.63 597.15 132.85C597.88 134.06 598.61 135.63 599.34 137.23C600.07 138.82 600.68 140.45 601.53 142.41C602.38 144.37 603.48 147.27 604.45 148.98C605.43 150.68 606.52 152.02 607.37 152.63C608.22 153.24 608.83 153.36 609.56 152.63C610.29 151.9 610.9 150.56 611.75 148.25C612.6 145.94 613.82 142.42 614.67 138.76C615.52 135.1 616.13 130.3 616.86 126.28C617.59 122.25 618.39 117.64 619.05 114.6C619.71 111.56 620.32 109.37 620.8 108.03C621.29 106.69 621.53 106.33 621.97 106.57C622.41 106.81 622.9 107.42 623.43 109.49C623.97 111.56 624.57 115.45 625.18 118.98C625.79 122.51 626.42 127.38 627.08 130.66C627.74 133.94 628.38 135.57 629.16 138.65C629.95 141.73 630.91 145.98 631.79 149.16C632.66 152.34 633.54 155.76 634.42 157.74C635.29 159.71 636.23 161.02 637.04 161.02C637.85 161.02 638.62 159.06 639.28 157.74C639.93 156.42 640.26 155.19 640.99 153.1C641.71 151.02 642.74 147.74 643.61 145.22C644.49 142.7 645.41 140.29 646.24 137.99C647.07 135.69 648.21 132.52 648.61 131.42" stroke="#0f0" stroke-width="1.3"/>
</g>
<text class="s" text-anchor="middle" x="462.3" y="67">0</text>
<text class="s" text-anchor="middle" x="493.33" y="67">20</text>
<text class="s" text-anchor="middle" x="524.37" y="67">40</text>
<text class="s" text-anchor="middle" x="555.4" y="67">60</text>
<text class="s" text-anchor="middle" x="586.43" y="67">80</text>
<text class="s" text-anchor="middle" x="617.47" y="67">100</text>
<text class="s" text-anchor="middle" x="648.5" y="67">120</text>
<text class="r" text-anchor="middle" x="555.4" y="52.5">Elapsed time (min)</text>
<text class="s" text-anchor="end" x="668.1" y="79.85">3</text>
<text class="s" text-anchor="end" x="668.1" y="101.05">2</text>
<text class="s" text-anchor="end" x="668.1" y="122.25">1</text>
<text class="s" text-anchor="end" x="668.1" y="143.45">0</text>
<text class="s" text-anchor="end" x="668.1" y="164.65">−1</text>
<text class="s" text-anchor="end" x="668.1" y="185.85">−2</text>
<text class="r" text-anchor="middle" transform="translate(682.6 129.2) rotate(-90)">Tsunami amplitude (m)</text>
</g>
<g>
<rect x="36.1" y="203.95" width="103.96" height="106.25" fill="#bebebe"/>
<path d="M67.5 203.95V310.2M98.5 203.95V310.2M129.5 203.95V310.2M160.5 203.95V310.2M191.5 203.95V310.2M36.1 225.5H222.3M36.1 246.5H222.3M36.1 267.5H222.3M36.1 288.5H222.3" stroke="#000" stroke-width="0.42" fill="none"/>
<rect x="36.1" y="203.95" width="186.2" height="106.25" fill="none" stroke="#000" stroke-width="1.75"/>
<path d="M36.1 203.95v-5.3M36.1 310.2v5.3M51.5 203.95v-2.9M51.5 310.2v2.9M67.5 203.95v-5.3M67.5 310.2v5.3M82.5 203.95v-2.9M82.5 310.2v2.9M98.5 203.95v-5.3M98.5 310.2v5.3M113.5 203.95v-2.9M113.5 310.2v2.9M129.5 203.95v-5.3M129.5 310.2v5.3M144.5 203.95v-2.9M144.5 310.2v2.9M160.5 203.95v-5.3M160.5 310.2v5.3M175.5 203.95v-2.9M175.5 310.2v2.9M191.5 203.95v-5.3M191.5 310.2v5.3M206.5 203.95v-2.9M206.5 310.2v2.9M222.3 203.95v-5.3M222.3 310.2v5.3M36.1 203.95h-5.3M222.3 203.95h5.3M36.1 214.5h-2.9M222.3 214.5h2.9M36.1 225.5h-5.3M222.3 225.5h5.3M36.1 235.5h-2.9M222.3 235.5h2.9M36.1 246.5h-5.3M222.3 246.5h5.3M36.1 257.5h-2.9M222.3 257.5h2.9M36.1 267.5h-5.3M222.3 267.5h5.3M36.1 278.5h-2.9M222.3 278.5h2.9M36.1 288.5h-5.3M222.3 288.5h5.3M36.1 299.5h-2.9M222.3 299.5h2.9M36.1 310.2h-5.3M222.3 310.2h5.3" stroke="#000" stroke-width="0.5" fill="none"/>
<text class="n" transform="translate(41.1 305.7) scale(1.03 1)">Hachinohe</text>
<clipPath id="c10"><rect x="36.1" y="203.95" width="186.2" height="106.25"/></clipPath>
<g clip-path="url(#c10)" fill="none" stroke-linejoin="round" stroke-linecap="butt">
<path d="M36.13 267.15C38.03 267.06 44.16 266.67 47.52 266.57C50.88 266.47 53.36 266.28 56.28 266.57C59.2 266.86 62.12 268.18 65.04 268.32C67.96 268.47 70.39 267.64 73.8 267.45C77.2 267.25 82.07 267.25 85.47 267.15C88.88 267.06 91.56 267.01 94.23 266.86C96.91 266.72 99.59 266.18 101.53 266.28C103.48 266.37 103.72 267.2 105.91 267.45C108.1 267.69 112.24 267.69 114.67 267.74C117.1 267.79 118.81 268.03 120.51 267.74C122.21 267.45 123.76 266.84 124.89 265.99C126.02 265.13 126.29 263.92 127.3 262.63C128.31 261.34 129.85 259.46 130.95 258.25C132.04 257.03 133.14 255.94 133.87 255.33C134.6 254.72 134.84 254.48 135.33 254.6C135.82 254.72 136.18 254.84 136.79 256.06C137.4 257.27 138.25 260.19 138.98 261.9C139.71 263.6 140.56 265.43 141.17 266.28C141.78 267.13 142.02 267.25 142.63 267.01C143.24 266.76 143.97 265.79 144.82 264.82C145.67 263.84 146.76 262.19 147.74 261.17C148.71 260.15 149.81 259.17 150.66 258.69C151.51 258.2 152 258.08 152.85 258.25C153.7 258.42 154.67 258.91 155.77 259.71C156.86 260.51 158.2 262.09 159.42 263.07C160.63 264.04 161.85 264.77 163.07 265.55C164.28 266.33 165.5 266.52 166.72 267.74C167.93 268.95 169.27 271.27 170.36 272.85C171.46 274.43 172.31 276.08 173.28 277.23C174.26 278.37 175.35 279.29 176.2 279.71C177.06 280.12 177.54 279.95 178.39 279.71C179.25 279.46 180.46 278.59 181.31 278.25C182.17 277.91 182.65 277.59 183.5 277.66C184.36 277.74 185.45 278.44 186.42 278.69C187.4 278.93 188.49 279.25 189.34 279.12C190.19 279 190.68 278.76 191.53 277.96C192.38 277.15 193.48 275.64 194.45 274.31C195.43 272.97 196.4 271.22 197.37 269.93C198.35 268.64 199.2 267.47 200.29 266.57C201.39 265.67 202.73 265.11 203.94 264.53C205.16 263.94 206.37 263.45 207.59 263.07C208.81 262.68 210.27 262.31 211.24 262.19C212.21 262.07 212.73 262.53 213.43 262.34C214.14 262.14 214.77 261.68 215.47 261.02C216.18 260.36 216.93 259.15 217.66 258.39C218.39 257.63 219.05 256.98 219.85 256.47C220.66 255.96 222.04 255.52 222.48 255.33" stroke="#000" stroke-width="1.12"/>
<path d="M36.13 267.45C38.76 267.4 46.84 267.1 51.9 267.15C56.96 267.2 61.63 267.69 66.5 267.74C71.36 267.79 76.23 267.49 81.09 267.45C85.96 267.4 90.83 267.35 95.69 267.45C100.56 267.54 106.64 267.93 110.29 268.03C113.94 268.13 115.64 268.27 117.59 268.03C119.54 267.79 120.63 267.35 121.97 266.57C123.31 265.79 124.73 264.18 125.62 263.36C126.51 262.53 126.41 262.46 127.3 261.61C128.19 260.75 129.85 259.05 130.95 258.25C132.04 257.45 133.02 256.79 133.87 256.79C134.72 256.79 135.33 257.4 136.06 258.25C136.79 259.1 137.4 260.92 138.25 261.9C139.1 262.87 140.19 263.55 141.17 264.09C142.14 264.62 143.11 264.62 144.09 265.11C145.06 265.6 146.03 266.2 147.01 267.01C147.98 267.81 149.03 269.25 149.93 269.93C150.83 270.61 151.56 271.22 152.41 271.09C153.26 270.97 154.11 270.05 155.04 269.2C155.96 268.35 156.98 266.76 157.96 265.99C158.93 265.21 159.9 264.36 160.88 264.53C161.85 264.7 162.82 265.86 163.8 267.01C164.77 268.15 165.62 269.93 166.72 271.39C167.81 272.85 169.15 274.55 170.36 275.77C171.58 276.98 172.8 278.13 174.01 278.69C175.23 279.25 176.45 279.2 177.66 279.12C178.88 279.05 180.22 278.49 181.31 278.25C182.41 278 183.26 278.2 184.23 277.66C185.21 277.13 186.18 276.2 187.15 275.04C188.13 273.87 189.1 272.12 190.07 270.66C191.05 269.2 191.9 267.74 192.99 266.28C194.09 264.82 195.43 263.16 196.64 261.9C197.86 260.63 199.08 259.61 200.29 258.69C201.51 257.76 202.77 256.96 203.94 256.35C205.11 255.74 206.33 255.09 207.3 255.04C208.27 254.99 208.88 255.4 209.78 256.06C210.68 256.72 211.73 257.64 212.7 258.98C213.67 260.32 214.77 262.87 215.62 264.09C216.47 265.3 217.32 265.94 217.81 266.28C218.3 266.61 218.05 266.2 218.54 266.1C219.03 266 220.07 265.75 220.73 265.66C221.39 265.58 222.19 265.59 222.48 265.58" stroke="#f00" stroke-width="1.15"/>
<path d="M36.13 267.45C38.76 267.4 46.84 267.1 51.9 267.15C56.96 267.2 61.63 267.69 66.5 267.74C71.36 267.79 76.23 267.49 81.09 267.45C85.96 267.4 90.83 267.35 95.69 267.45C100.56 267.54 106.64 267.93 110.29 268.03C113.94 268.13 115.64 268.27 117.59 268.03C119.54 267.79 120.63 267.35 121.97 266.57C123.31 265.79 124.73 264.18 125.62 263.36C126.51 262.53 126.41 262.46 127.3 261.61C128.19 260.75 129.85 259.05 130.95 258.25C132.04 257.45 133.02 256.79 133.87 256.79C134.72 256.79 135.33 257.4 136.06 258.25C136.79 259.1 137.4 260.92 138.25 261.9C139.1 262.87 140.19 263.55 141.17 264.09C142.14 264.62 143.11 264.62 144.09 265.11C145.06 265.6 146.03 266.2 147.01 267.01C147.98 267.81 149.03 269.25 149.93 269.93C150.83 270.61 151.56 271.22 152.41 271.09C153.26 270.97 154.11 270.05 155.04 269.2C155.96 268.35 156.98 266.76 157.96 265.99C158.93 265.21 159.9 264.36 160.88 264.53C161.85 264.7 162.82 265.86 163.8 267.01C164.77 268.15 165.62 269.93 166.72 271.39C167.81 272.85 169.15 274.55 170.36 275.77C171.58 276.98 172.8 278.13 174.01 278.69C175.23 279.25 176.45 279.2 177.66 279.12C178.88 279.05 180.22 278.49 181.31 278.25C182.41 278 183.26 278.2 184.23 277.66C185.21 277.13 186.18 276.2 187.15 275.04C188.13 273.87 189.1 272.12 190.07 270.66C191.05 269.2 191.9 267.74 192.99 266.28C194.09 264.82 195.43 263.16 196.64 261.9C197.86 260.63 199.08 259.61 200.29 258.69C201.51 257.76 202.77 256.96 203.94 256.35C205.11 255.74 206.33 255.09 207.3 255.04C208.27 254.99 208.88 255.4 209.78 256.06C210.68 256.72 211.73 257.64 212.7 258.98C213.67 260.32 214.77 262.87 215.62 264.09C216.47 265.3 217.32 265.94 217.81 266.28C218.3 266.61 218.05 266.2 218.54 266.1C219.03 266 220.07 265.75 220.73 265.66C221.39 265.58 222.19 265.59 222.48 265.58" stroke="#0f0" stroke-width="1.3"/>
</g>
<text class="s" text-anchor="middle" x="36.1" y="326.3">0</text>
<text class="s" text-anchor="middle" x="67.13" y="326.3">20</text>
<text class="s" text-anchor="middle" x="98.17" y="326.3">40</text>
<text class="s" text-anchor="middle" x="129.2" y="326.3">60</text>
<text class="s" text-anchor="middle" x="160.23" y="326.3">80</text>
<text class="s" text-anchor="middle" x="191.27" y="326.3">100</text>
<text class="s" text-anchor="middle" x="222.3" y="326.3">120</text>
<text class="r" text-anchor="middle" x="129.2" y="340.6">Elapsed time (min)</text>
<text class="s" text-anchor="end" x="26.4" y="207.3">3</text>
<text class="s" text-anchor="end" x="26.4" y="228.55">2</text>
<text class="s" text-anchor="end" x="26.4" y="249.8">1</text>
<text class="s" text-anchor="end" x="26.4" y="271.05">0</text>
<text class="s" text-anchor="end" x="26.4" y="292.3">−1</text>
<text class="s" text-anchor="end" x="26.4" y="313.55">−2</text>
<text class="r" text-anchor="middle" transform="translate(8.4 256.77) rotate(-90)">Tsunami amplitude (m)</text>
</g>
<g>
<rect x="249.1" y="203.95" width="89.69" height="106.25" fill="#bebebe"/>
<path d="M280.5 203.95V310.2M311.5 203.95V310.2M342.5 203.95V310.2M373.5 203.95V310.2M404.5 203.95V310.2M249.1 225.5H435.3M249.1 246.5H435.3M249.1 267.5H435.3M249.1 288.5H435.3" stroke="#000" stroke-width="0.42" fill="none"/>
<rect x="249.1" y="203.95" width="186.2" height="106.25" fill="none" stroke="#000" stroke-width="1.75"/>
<path d="M249.1 203.95v-5.3M249.1 310.2v5.3M264.5 203.95v-2.9M264.5 310.2v2.9M280.5 203.95v-5.3M280.5 310.2v5.3M295.5 203.95v-2.9M295.5 310.2v2.9M311.5 203.95v-5.3M311.5 310.2v5.3M326.5 203.95v-2.9M326.5 310.2v2.9M342.5 203.95v-5.3M342.5 310.2v5.3M357.5 203.95v-2.9M357.5 310.2v2.9M373.5 203.95v-5.3M373.5 310.2v5.3M388.5 203.95v-2.9M388.5 310.2v2.9M404.5 203.95v-5.3M404.5 310.2v5.3M419.5 203.95v-2.9M419.5 310.2v2.9M435.3 203.95v-5.3M435.3 310.2v5.3M249.1 203.95h-5.3M435.3 203.95h5.3M249.1 214.5h-2.9M435.3 214.5h2.9M249.1 225.5h-5.3M435.3 225.5h5.3M249.1 235.5h-2.9M435.3 235.5h2.9M249.1 246.5h-5.3M435.3 246.5h5.3M249.1 257.5h-2.9M435.3 257.5h2.9M249.1 267.5h-5.3M435.3 267.5h5.3M249.1 278.5h-2.9M435.3 278.5h2.9M249.1 288.5h-5.3M435.3 288.5h5.3M249.1 299.5h-2.9M435.3 299.5h2.9M249.1 310.2h-5.3M435.3 310.2h5.3" stroke="#000" stroke-width="0.5" fill="none"/>
<text class="n" transform="translate(254.1 305.7) scale(1.03 1)">Miyako</text>
<clipPath id="c11"><rect x="249.1" y="203.95" width="186.2" height="106.25"/></clipPath>
<g clip-path="url(#c11)" fill="none" stroke-linejoin="round" stroke-linecap="butt">
<path d="M249.21 267.45C249.65 267.3 250.67 266.72 251.84 266.57C253.01 266.42 254.76 266.42 256.22 266.57C257.68 266.72 256.22 267.35 260.6 267.45C264.98 267.54 276.9 267.15 282.5 267.15C288.09 267.15 291.01 267.3 294.18 267.45C297.34 267.59 299.04 267.98 301.47 268.03C303.91 268.08 306.1 267.88 308.77 267.74C311.45 267.59 315.34 267.4 317.53 267.15C319.72 266.91 320.57 266.79 321.91 266.28C323.25 265.77 324.47 264.94 325.56 264.09C326.66 263.24 327.63 262.31 328.48 261.17C329.33 260.02 329.94 258.25 330.67 257.23C331.4 256.2 332.2 255.35 332.86 255.04C333.52 254.72 334 254.91 334.61 255.33C335.22 255.74 335.83 256.42 336.51 257.52C337.19 258.61 337.97 260.44 338.7 261.9C339.43 263.36 340.04 265.06 340.89 266.28C341.74 267.49 343.17 268.71 343.81 269.2C344.45 269.68 343.99 268.22 344.76 269.2C345.53 270.17 347.31 273.63 348.41 275.04C349.5 276.45 350.48 277.18 351.33 277.66C352.18 278.15 352.67 278.39 353.52 277.96C354.37 277.52 355.34 276.37 356.44 275.04C357.53 273.7 358.87 271.27 360.09 269.93C361.3 268.59 362.52 267.66 363.74 267.01C364.95 266.35 366.29 266.35 367.39 265.99C368.48 265.62 369.33 264.53 370.31 264.82C371.28 265.11 372.25 267.01 373.23 267.74C374.2 268.47 375.05 269.08 376.15 269.2C377.24 269.32 378.58 268.64 379.8 268.47C381.01 268.3 382.23 268.18 383.45 268.18C384.66 268.18 385.88 268.54 387.09 268.47C388.31 268.39 389.53 268.22 390.74 267.74C391.96 267.25 393.18 266.28 394.39 265.55C395.61 264.82 396.83 263.92 398.04 263.36C399.26 262.8 400.36 262.43 401.69 262.19C403.03 261.95 404.73 261.87 406.07 261.9C407.41 261.92 408.63 261.97 409.72 262.34C410.82 262.7 411.67 263.19 412.64 264.09C413.62 264.99 414.59 266.59 415.56 267.74C416.54 268.88 417.51 270.17 418.48 270.95C419.45 271.73 420.43 272.46 421.4 272.41C422.37 272.36 423.35 271.56 424.32 270.66C425.29 269.76 426.27 268.35 427.24 267.01C428.21 265.67 429.31 263.72 430.16 262.63C431.01 261.53 431.62 260.8 432.35 260.44C433.08 260.07 434 260.24 434.54 260.44C435.08 260.63 435.39 261.41 435.56 261.61" stroke="#000" stroke-width="1.12"/>
<path d="M249.21 267.45C252.33 267.45 261.13 267.49 267.9 267.45C274.66 267.4 283.71 267.15 289.8 267.15C295.88 267.15 300.26 267.45 304.39 267.45C308.53 267.45 312.18 267.3 314.61 267.15C317.05 267.01 317.78 266.96 318.99 266.57C320.21 266.18 320.82 265.72 321.91 264.82C323.01 263.92 324.47 262.19 325.56 261.17C326.66 260.15 327.63 259.25 328.48 258.69C329.33 258.13 329.94 257.76 330.67 257.81C331.4 257.86 332.01 258.3 332.86 258.98C333.71 259.66 334.69 260.68 335.78 261.9C336.88 263.11 338.21 264.7 339.43 266.28C340.65 267.86 341.83 269.32 343.08 271.39C344.33 273.45 345.7 277.1 346.95 278.69C348.2 280.27 349.5 280.95 350.6 280.88C351.69 280.8 352.55 279.64 353.52 278.25C354.49 276.86 355.46 274.4 356.44 272.55C357.41 270.71 358.34 268.69 359.36 267.15C360.38 265.62 361.47 264.16 362.57 263.36C363.66 262.55 364.81 262.14 365.93 262.34C367.05 262.53 368.24 263.58 369.28 264.53C370.33 265.47 371.06 266.96 372.2 268.03C373.35 269.1 374.88 270.51 376.15 270.95C377.41 271.39 378.46 270.75 379.8 270.66C381.13 270.56 382.72 270.32 384.18 270.36C385.64 270.41 387.22 271.27 388.55 270.95C389.89 270.63 390.99 269.73 392.2 268.47C393.42 267.2 394.52 264.7 395.85 263.36C397.19 262.02 398.9 261.09 400.23 260.44C401.57 259.78 402.79 259.29 403.88 259.42C404.98 259.54 405.78 260.32 406.8 261.17C407.82 262.02 408.92 263.31 410.01 264.53C411.11 265.74 412.33 267.49 413.37 268.47C414.42 269.44 415.44 270.12 416.29 270.36C417.14 270.61 417.51 270.24 418.48 269.93C419.45 269.61 420.79 269.2 422.13 268.47C423.47 267.74 425.05 266.64 426.51 265.55C427.97 264.45 429.72 262.51 430.89 261.9C432.06 261.29 432.74 261.53 433.52 261.9C434.3 262.26 435.22 263.72 435.56 264.09" stroke="#f00" stroke-width="1.15"/>
<path d="M249.21 267.45C252.33 267.45 261.13 267.49 267.9 267.45C274.66 267.4 283.71 267.15 289.8 267.15C295.88 267.15 300.26 267.45 304.39 267.45C308.53 267.45 312.18 267.3 314.61 267.15C317.05 267.01 317.78 266.96 318.99 266.57C320.21 266.18 320.82 265.72 321.91 264.82C323.01 263.92 324.47 262.19 325.56 261.17C326.66 260.15 327.63 259.25 328.48 258.69C329.33 258.13 329.94 257.76 330.67 257.81C331.4 257.86 332.01 258.3 332.86 258.98C333.71 259.66 334.69 260.68 335.78 261.9C336.88 263.11 338.21 264.7 339.43 266.28C340.65 267.86 341.83 269.32 343.08 271.39C344.33 273.45 345.7 277.15 346.95 278.69C348.2 280.22 349.5 280.66 350.6 280.58C351.69 280.51 352.55 279.54 353.52 278.25C354.49 276.96 355.46 274.6 356.44 272.85C357.41 271.09 358.26 269.12 359.36 267.74C360.45 266.35 361.91 265.21 363.01 264.53C364.1 263.84 364.95 263.6 365.93 263.65C366.9 263.7 367.87 264.14 368.85 264.82C369.82 265.5 370.67 266.89 371.77 267.74C372.86 268.59 374.08 269.56 375.42 269.93C376.75 270.29 378.34 270.05 379.8 269.93C381.26 269.81 382.72 269.32 384.18 269.2C385.64 269.08 387.22 269.56 388.55 269.2C389.89 268.83 390.99 267.86 392.2 267.01C393.42 266.16 394.52 264.82 395.85 264.09C397.19 263.36 398.77 262.99 400.23 262.63C401.69 262.26 403.4 261.97 404.61 261.9C405.83 261.82 406.56 261.7 407.53 262.19C408.51 262.68 409.48 263.77 410.45 264.82C411.43 265.86 412.4 267.54 413.37 268.47C414.35 269.39 415.32 270.12 416.29 270.36C417.27 270.61 418.12 270.36 419.21 269.93C420.31 269.49 421.64 268.59 422.86 267.74C424.08 266.89 425.29 265.6 426.51 264.82C427.73 264.04 429.07 263.19 430.16 263.07C431.26 262.94 432.18 263.6 433.08 264.09C433.98 264.57 435.15 265.67 435.56 265.99" stroke="#0f0" stroke-width="1.3"/>
</g>
<text class="s" text-anchor="middle" x="249.1" y="326.3">0</text>
<text class="s" text-anchor="middle" x="280.13" y="326.3">20</text>
<text class="s" text-anchor="middle" x="311.17" y="326.3">40</text>
<text class="s" text-anchor="middle" x="342.2" y="326.3">60</text>
<text class="s" text-anchor="middle" x="373.23" y="326.3">80</text>
<text class="s" text-anchor="middle" x="404.27" y="326.3">100</text>
<text class="s" text-anchor="middle" x="435.3" y="326.3">120</text>
<text class="r" text-anchor="middle" x="342.2" y="340.6">Elapsed time (min)</text>
</g>
<g>
<rect x="462.3" y="203.95" width="85.5" height="106.25" fill="#bebebe"/>
<path d="M493.5 203.95V310.2M524.5 203.95V310.2M555.5 203.95V310.2M586.5 203.95V310.2M617.5 203.95V310.2M462.3 225.5H648.5M462.3 246.5H648.5M462.3 267.5H648.5M462.3 288.5H648.5" stroke="#000" stroke-width="0.42" fill="none"/>
<rect x="462.3" y="203.95" width="186.2" height="106.25" fill="none" stroke="#000" stroke-width="1.75"/>
<path d="M462.3 203.95v-5.3M462.3 310.2v5.3M477.5 203.95v-2.9M477.5 310.2v2.9M493.5 203.95v-5.3M493.5 310.2v5.3M508.5 203.95v-2.9M508.5 310.2v2.9M524.5 203.95v-5.3M524.5 310.2v5.3M539.5 203.95v-2.9M539.5 310.2v2.9M555.5 203.95v-5.3M555.5 310.2v5.3M570.5 203.95v-2.9M570.5 310.2v2.9M586.5 203.95v-5.3M586.5 310.2v5.3M601.5 203.95v-2.9M601.5 310.2v2.9M617.5 203.95v-5.3M617.5 310.2v5.3M632.5 203.95v-2.9M632.5 310.2v2.9M648.5 203.95v-5.3M648.5 310.2v5.3M462.3 203.95h-5.3M648.5 203.95h5.3M462.3 214.5h-2.9M648.5 214.5h2.9M462.3 225.5h-5.3M648.5 225.5h5.3M462.3 235.5h-2.9M648.5 235.5h2.9M462.3 246.5h-5.3M648.5 246.5h5.3M462.3 257.5h-2.9M648.5 257.5h2.9M462.3 267.5h-5.3M648.5 267.5h5.3M462.3 278.5h-2.9M648.5 278.5h2.9M462.3 288.5h-5.3M648.5 288.5h5.3M462.3 299.5h-2.9M648.5 299.5h2.9M462.3 310.2h-5.3M648.5 310.2h5.3" stroke="#000" stroke-width="0.5" fill="none"/>
<text class="n" transform="translate(467.3 305.7) scale(1.03 1)">Akkeshi</text>
<clipPath id="c12"><rect x="462.3" y="203.95" width="186.2" height="106.25"/></clipPath>
<g clip-path="url(#c12)" fill="none" stroke-linejoin="round" stroke-linecap="butt">
<path d="M462.38 267.01C462.74 266.76 463.84 265.86 464.57 265.55C465.3 265.23 466.15 264.91 466.76 265.11C467.37 265.3 467.25 266.4 468.22 266.72C469.19 267.03 470.65 267.01 472.6 267.01C474.55 267.01 477.46 266.79 479.9 266.72C482.33 266.64 485.25 266.84 487.2 266.57C489.14 266.3 489.87 265.57 491.58 265.11C493.28 264.65 495.71 264.21 497.42 263.8C499.12 263.38 500.58 262.65 501.8 262.63C503.01 262.6 503.74 263.53 504.72 263.65C505.69 263.77 506.42 263.45 507.64 263.36C508.85 263.26 510.55 263.26 512.01 263.07C513.47 262.87 514.69 262.51 516.39 262.19C518.1 261.87 520.53 261.27 522.23 261.17C523.94 261.07 525.15 261.65 526.61 261.61C528.07 261.56 529.78 261.19 530.99 260.88C532.21 260.56 532.94 260.27 533.91 259.71C534.89 259.15 535.91 258.08 536.83 257.52C537.76 256.96 538.61 256.47 539.46 256.35C540.31 256.23 541.16 256.35 541.94 256.79C542.72 257.23 543.28 258 544.13 258.98C544.98 259.95 546.41 261.83 547.05 262.63C547.7 263.42 547.23 262.72 548 263.76C548.77 264.8 550.43 267.53 551.65 268.87C552.87 270.21 553.96 271.06 555.3 271.79C556.64 272.52 558.22 272.93 559.68 273.25C561.14 273.56 562.6 273.2 564.06 273.69C565.52 274.17 566.98 275.15 568.44 276.17C569.9 277.19 571.36 278.77 572.82 279.82C574.28 280.86 575.86 281.96 577.2 282.45C578.54 282.93 579.51 282.93 580.85 282.74C582.18 282.54 583.89 281.89 585.23 281.28C586.56 280.67 587.66 280.18 588.88 279.09C590.09 277.99 591.31 276.41 592.53 274.71C593.74 273 594.96 271.06 596.18 268.87C597.39 266.68 598.49 264.14 599.82 261.57C601.16 259 602.99 255.79 604.2 253.47C605.42 251.14 606.15 249.09 607.12 247.63C608.1 246.17 609.07 245.36 610.04 244.71C611.02 244.05 612.11 243.69 612.96 243.69C613.82 243.69 614.3 243.93 615.15 244.71C616 245.49 616.98 246.9 618.07 248.36C619.17 249.82 620.51 252.01 621.72 253.47C622.94 254.93 624.28 256.02 625.37 257.12C626.47 258.21 627.32 258.82 628.29 260.04C629.27 261.25 630.42 263.31 631.21 264.42C632 265.52 632.14 265.62 633.03 266.68C633.92 267.74 635.36 269.6 636.53 270.77C637.7 271.93 638.87 272.81 640.04 273.69C641.2 274.56 642.14 275.54 643.54 276.02C644.94 276.51 647.63 276.51 648.45 276.61" stroke="#000" stroke-width="1.12"/>
<path d="M462.38 267.45C464.08 267.45 468.46 267.49 472.6 267.45C476.73 267.4 482.33 267.23 487.2 267.15C492.06 267.08 497.42 267.15 501.8 267.01C506.18 266.86 510.31 266.59 513.47 266.28C516.64 265.96 518.83 265.72 520.77 265.11C522.72 264.5 523.69 263.53 525.15 262.63C526.61 261.73 528.07 260.36 529.53 259.71C530.99 259.05 532.57 258.81 533.91 258.69C535.25 258.56 536.47 258.69 537.56 258.98C538.66 259.27 539.39 259.64 540.48 260.44C541.58 261.24 542.88 262.46 544.13 263.8C545.38 265.13 546.63 266.98 548 268.43C549.37 269.88 550.92 271.35 552.38 272.52C553.84 273.69 555.3 274.46 556.76 275.44C558.22 276.41 559.68 277.14 561.14 278.36C562.6 279.57 564.06 281.28 565.52 282.74C566.98 284.2 568.44 285.9 569.9 287.12C571.36 288.33 572.82 289.36 574.28 290.04C575.74 290.72 577.2 291.2 578.66 291.2C580.12 291.2 581.7 290.72 583.04 290.04C584.37 289.36 585.47 288.7 586.69 287.12C587.9 285.54 589.12 283.22 590.34 280.55C591.55 277.87 592.89 274.1 593.99 271.06C595.08 268.02 596.18 264.87 596.91 262.3C597.64 259.73 597.64 258.1 598.36 255.66C599.09 253.21 600.31 249.94 601.28 247.63C602.26 245.32 603.23 243.42 604.2 241.79C605.18 240.16 606.27 238.75 607.12 237.85C607.98 236.95 608.46 236.39 609.31 236.39C610.17 236.39 611.38 237.07 612.23 237.85C613.09 238.63 613.57 239.31 614.42 241.06C615.27 242.81 616.25 246.05 617.34 248.36C618.44 250.67 619.78 252.98 620.99 254.93C622.21 256.87 623.43 258.21 624.64 260.04C625.86 261.86 627.48 264.77 628.29 265.88C629.11 266.98 628.74 265.38 629.53 266.68C630.32 267.98 631.86 271.64 633.03 273.69C634.2 275.73 635.36 277.29 636.53 278.94C637.7 280.6 639.02 282.54 640.04 283.61C641.05 284.68 641.83 285.27 642.61 285.36C643.38 285.46 643.97 284.88 644.71 284.2C645.45 283.52 646.42 282.06 647.04 281.28C647.67 280.5 648.21 279.82 648.45 279.53" stroke="#f00" stroke-width="1.15"/>
<path d="M462.38 267.45C464.08 267.45 468.46 267.49 472.6 267.45C476.73 267.4 482.33 267.23 487.2 267.15C492.06 267.08 497.42 267.15 501.8 267.01C506.18 266.86 510.31 266.59 513.47 266.28C516.64 265.96 518.83 265.64 520.77 265.11C522.72 264.57 523.69 263.8 525.15 263.07C526.61 262.34 528.07 261.36 529.53 260.73C530.99 260.1 532.57 259.56 533.91 259.27C535.25 258.98 536.47 258.83 537.56 258.98C538.66 259.12 539.39 259.42 540.48 260.15C541.58 260.88 542.88 262.15 544.13 263.36C545.38 264.57 546.63 266.25 548 267.41C549.37 268.57 550.92 269.36 552.38 270.33C553.84 271.3 555.3 272.27 556.76 273.25C558.22 274.22 559.68 275.07 561.14 276.17C562.6 277.26 564.06 278.6 565.52 279.82C566.98 281.03 568.44 282.49 569.9 283.47C571.36 284.44 572.82 285.17 574.28 285.66C575.74 286.14 577.2 286.39 578.66 286.39C580.12 286.39 581.7 286.27 583.04 285.66C584.37 285.05 585.47 283.95 586.69 282.74C587.9 281.52 589.12 280.18 590.34 278.36C591.55 276.53 592.77 274.22 593.99 271.79C595.2 269.36 596.78 265.6 597.64 263.76C598.49 261.92 598.24 262.36 599.09 260.77C599.95 259.17 601.53 256.02 602.74 254.2C603.96 252.37 605.3 250.91 606.39 249.82C607.49 248.72 608.34 248.11 609.31 247.63C610.29 247.14 611.26 246.78 612.23 246.9C613.21 247.02 614.18 247.51 615.15 248.36C616.13 249.21 616.98 250.67 618.07 252.01C619.17 253.35 620.51 254.93 621.72 256.39C622.94 257.85 624.16 259.31 625.37 260.77C626.59 262.23 627.81 263.69 629.02 265.15C630.24 266.61 631.81 268.49 632.67 269.53C633.53 270.56 633.36 270.46 634.2 271.35C635.04 272.24 636.53 273.78 637.7 274.85C638.87 275.92 640.13 277 641.2 277.77C642.27 278.55 643.25 279.19 644.12 279.53C645 279.86 645.74 279.86 646.46 279.76C647.18 279.66 648.11 279.08 648.45 278.94" stroke="#0f0" stroke-width="1.3"/>
</g>
<text class="s" text-anchor="middle" x="462.3" y="326.3">0</text>
<text class="s" text-anchor="middle" x="493.33" y="326.3">20</text>
<text class="s" text-anchor="middle" x="524.37" y="326.3">40</text>
<text class="s" text-anchor="middle" x="555.4" y="326.3">60</text>
<text class="s" text-anchor="middle" x="586.43" y="326.3">80</text>
<text class="s" text-anchor="middle" x="617.47" y="326.3">100</text>
<text class="s" text-anchor="middle" x="648.5" y="326.3">120</text>
<text class="r" text-anchor="middle" x="555.4" y="340.6">Elapsed time (min)</text>
<text class="s" text-anchor="end" x="668.1" y="207.3">3</text>
<text class="s" text-anchor="end" x="668.1" y="228.55">2</text>
<text class="s" text-anchor="end" x="668.1" y="249.8">1</text>
<text class="s" text-anchor="end" x="668.1" y="271.05">0</text>
<text class="s" text-anchor="end" x="668.1" y="292.3">−1</text>
<text class="s" text-anchor="end" x="668.1" y="313.55">−2</text>
<text class="r" text-anchor="middle" transform="translate(682.6 256.77) rotate(-90)">Tsunami amplitude (m)</text>
</g>
</svg></body></html>
